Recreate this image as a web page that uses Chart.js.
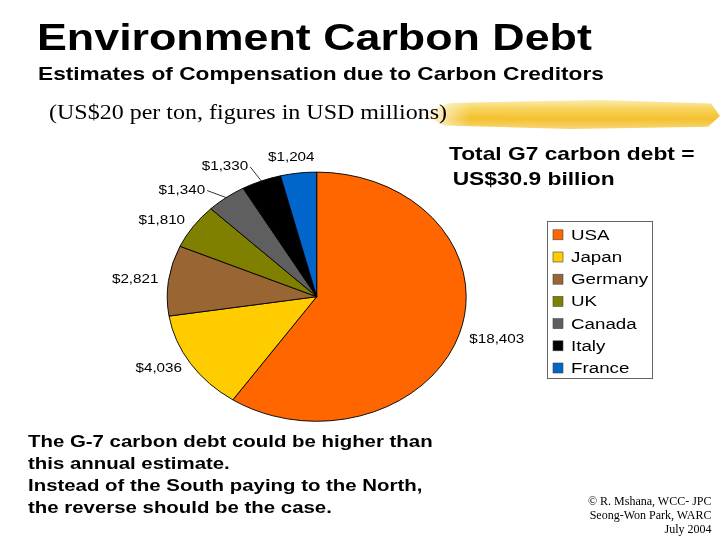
<!DOCTYPE html>
<html lang="en">
<head>
  <meta charset="UTF-8">
  <title>Environment Carbon Debt</title>
  <style>
    body {
      margin: 0;
      width: 720px;
      height: 540px;
      position: relative;
      overflow: hidden;
      background: #fff;
      color: #000;
      font-family: "Liberation Sans", Arial, sans-serif;
    }
    #debtChart {
      position: absolute;
      left: 0;
      top: 0;
      width: 720px;
      height: 540px;
      z-index: 2;
    }
    .txt {
      position: absolute;
      white-space: nowrap;
      transform-origin: 0 0;
      line-height: 1;
      z-index: 3;
    }
    .title {
      left: 37px;
      top: 19.5px;
      font-size: 36px;
      font-weight: bold;
      transform: scaleX(1.244);
    }
    .sub {
      left: 38px;
      top: 64.8px;
      font-size: 18.5px;
      font-weight: bold;
      transform: scaleX(1.226);
    }
    .paren {
      left: 49px;
      top: 102.3px;
      font-family: "Liberation Serif", "Times New Roman", serif;
      font-size: 20px;
      transform: scaleX(1.2);
    }
    .brush {
      position: absolute;
      left: 420px;
      top: 100px;
      width: 300px;
      height: 29px;
      z-index: 1;
      background: linear-gradient(180deg, #fcecae 0%, #f8d45e 30%, #f3c02e 65%, #f7d676 100%);
      clip-path: polygon(0% 45%, 10% 10%, 60% 0%, 97% 12%, 100% 55%, 96% 92%, 50% 100%, 8% 88%);
      -webkit-mask-image: linear-gradient(to right, transparent 0, #000 50px);
      mask-image: linear-gradient(to right, transparent 0, #000 50px);
    }
    .total {
      left: 449px;
      top: 142px;
      font-size: 18.5px;
      font-weight: bold;
      line-height: 24.6px;
      transform: scaleX(1.23);
    }
    .note {
      left: 28px;
      top: 430.6px;
      font-size: 17px;
      font-weight: bold;
      line-height: 22px;
      transform: scaleX(1.2);
    }
    .credit {
      right: 8.5px;
      top: 494px;
      text-align: right;
      font-family: "Liberation Serif", "Times New Roman", serif;
      font-size: 12px;
      line-height: 14px;
    }
  </style>
  <script src="https://cdn.jsdelivr.net/npm/chart.js"></script>
</head>
<body>
  <div class="txt title">Environment Carbon Debt</div>
  <div class="txt sub">Estimates of Compensation due to Carbon Creditors</div>
  <div class="brush"></div>
  <div class="txt paren">(US$20 per ton, figures in USD millions)</div>
  <div class="txt total">Total G7 carbon debt =<br><span style="padding-left:3px">US$30.9 billion</span></div>
  <div class="txt note">The G-7 carbon debt could be higher than<br>this annual estimate.<br>Instead of the South paying to the North,<br>the reverse should be the case.</div>
  <div class="txt credit">© R. Mshana, WCC- JPC<br>Seong-Won Park, WARC<br>July 2004</div>

  <canvas id="debtChart" width="720" height="540"></canvas>

  <script>
    // G7 carbon debt, US$ millions
    const countries = ['USA', 'Japan', 'Germany', 'UK', 'Canada', 'Italy', 'France'];
    const debtMillions = [18403, 4036, 2821, 1810, 1340, 1330, 1204];
    const sliceColors = ['#ff6600', '#ffcc00', '#996633', '#808000', '#5f5f5f', '#000000', '#0066cc'];

    // the slide is stretched sideways, so the pie is an ellipse
    const squash = 125 / 150;
    // small slices get a leader line, label pushed off by [dx, dy]
    const leaders = { Canada: [-19, -7], Italy: [-11, -14] };

    function wideText(ctx, text, x, y, sx) {
      ctx.save();
      ctx.translate(x, y);
      ctx.scale(sx, 1);
      ctx.fillText(text, 0, 0);
      ctx.restore();
    }

    const squashPie = {
      id: 'squashPie',
      beforeDatasetsDraw(chart) {
        const arc = chart.getDatasetMeta(0).data[0];
        const ctx = chart.ctx;
        ctx.save();
        ctx.translate(arc.x, arc.y);
        ctx.scale(1, squash);
        ctx.translate(-arc.x, -arc.y);
      },
      afterDatasetsDraw(chart) {
        chart.ctx.restore();
      }
    };

    const valueLabels = {
      id: 'valueLabels',
      afterDraw(chart) {
        const ctx = chart.ctx;
        const arcs = chart.getDatasetMeta(0).data;
        const values = chart.data.datasets[0].data;
        ctx.save();
        ctx.font = '12.5px "Liberation Sans", Arial, sans-serif';
        ctx.fillStyle = '#000';
        ctx.strokeStyle = '#000';
        ctx.lineWidth = 0.8;
        ctx.textBaseline = 'middle';
        arcs.forEach((arc, i) => {
          const a = (arc.startAngle + arc.endAngle) / 2;
          const r = arc.outerRadius;
          const px = arc.x + r * Math.cos(a);
          const py = arc.y + squash * r * Math.sin(a);
          const text = '$' + values[i].toLocaleString('en-US');
          const lead = leaders[chart.data.labels[i]];
          if (lead) {
            const ax = px + lead[0];
            const ay = py + lead[1];
            ctx.beginPath();
            ctx.moveTo(px, py);
            ctx.lineTo(ax, ay);
            ctx.stroke();
            ctx.textAlign = 'right';
            wideText(ctx, text, ax - 2, ay, 1.22);
            return;
          }
          const c = Math.cos(a), s = Math.sin(a);
          const ax = px + 10 * c;
          const ay = py + 10 * s;
          if (c > 0.25) {
            ctx.textAlign = 'left';
            wideText(ctx, text, ax, ay + 3, 1.22);
          } else if (c < -0.25) {
            ctx.textAlign = 'right';
            wideText(ctx, text, ax, ay, 1.22);
          } else {
            ctx.textAlign = 'center';
            wideText(ctx, text, ax - 6, ay - 6, 1.22);
          }
        });
        ctx.restore();
      }
    };

    const boxLegend = {
      id: 'boxLegend',
      afterDraw(chart) {
        const ctx = chart.ctx;
        const labels = chart.data.labels;
        const colors = chart.data.datasets[0].backgroundColor;
        const left = 547, top = 221, step = 22.2;
        ctx.save();
        ctx.strokeStyle = '#666';
        ctx.lineWidth = 1;
        ctx.strokeRect(left + 0.5, top + 0.5, 105, 157);
        ctx.font = '15.5px "Liberation Sans", Arial, sans-serif';
        ctx.textAlign = 'left';
        ctx.textBaseline = 'alphabetic';
        labels.forEach((label, i) => {
          const base = 239.8 + i * step;
          ctx.fillStyle = colors[i];
          ctx.fillRect(553, base - 10, 10, 10);
          ctx.strokeStyle = '#444';
          ctx.lineWidth = 0.6;
          ctx.strokeRect(553, base - 10, 10, 10);
          ctx.fillStyle = '#000';
          wideText(ctx, label, 571, base, 1.21);
        });
        ctx.restore();
      }
    };

    const ctx = document.getElementById('debtChart').getContext('2d');
    new Chart(ctx, {
      type: 'pie',
      data: {
        labels: countries,
        datasets: [{
          data: debtMillions,
          backgroundColor: sliceColors,
          borderColor: '#000',
          borderWidth: 1,
          hoverOffset: 0
        }]
      },
      options: {
        responsive: false,
        animation: false,
        layout: {
          padding: { left: 166.7, right: 253.3, top: 146.7, bottom: 93.3 }
        },
        plugins: {
          legend: { display: false },
          tooltip: { enabled: false }
        }
      },
      plugins: [squashPie, valueLabels, boxLegend]
    });
  </script>
</body>
</html>
